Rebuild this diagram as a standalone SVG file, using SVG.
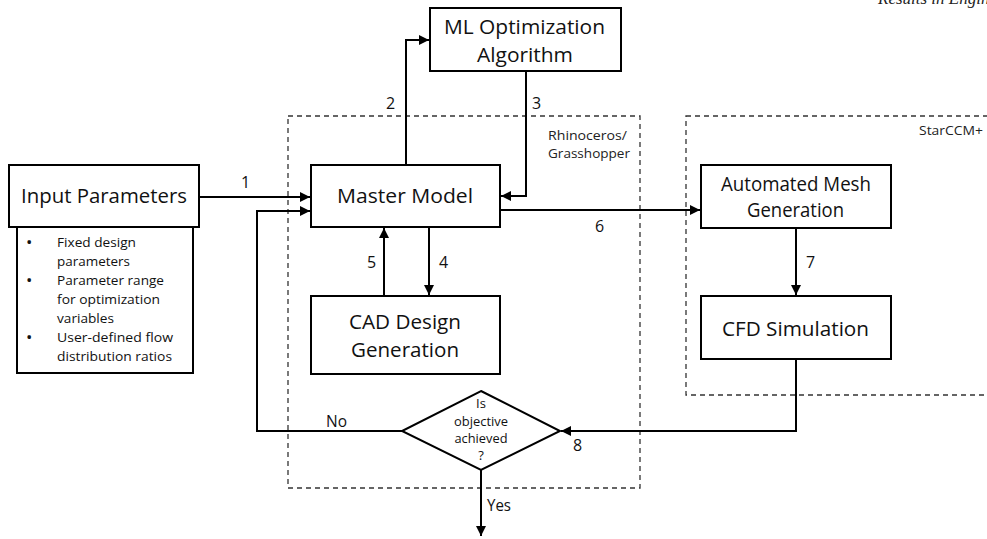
<svg xmlns="http://www.w3.org/2000/svg" width="987" height="539" viewBox="0 0 987 539">
  <style>
    .box { fill: #ffffff; stroke: #000000; stroke-width: 2; }
    .zone { fill: none; stroke: #333333; stroke-width: 1.3; stroke-dasharray: 5 4; }
    .wire { fill: none; stroke: #000000; stroke-width: 2; }
    .lbl { font-family: "Open Sans", "Noto Sans", sans-serif; fill: #111111; }
    .big { font-size: 20px; }
    .mid { font-size: 16px; }
    .small { font-size: 13px; }
    .bullet { font-size: 17px; }
    .zlbl { font-size: 13px; fill: #222222; }
  </style>
  <defs>
    <marker id="head" viewBox="0 0 10 10" refX="10" refY="5" markerWidth="5" markerHeight="5" orient="auto" markerUnits="strokeWidth">
      <path d="M0,0 L10,5 L0,10 z" fill="#000000"/>
    </marker>
  </defs>
  <rect width="987" height="539" fill="#ffffff"/>

  <!-- journal running head, clipped at the top edge -->
  <text x="878" y="4" font-family="Liberation Serif, serif" font-style="italic" font-size="17" fill="#222">Results in Engineering</text>

  <!-- tool zones -->
  <g id="zone-rhino">
    <rect class="zone" x="288" y="116" width="352" height="372"/>
    <text class="lbl zlbl" x="548" y="140" textLength="79" lengthAdjust="spacingAndGlyphs">Rhinoceros/</text>
    <text class="lbl zlbl" x="548" y="158" textLength="82" lengthAdjust="spacingAndGlyphs">Grasshopper</text>
  </g>
  <g id="zone-starccm">
    <rect class="zone" x="686" y="116" width="320" height="279"/>
    <text class="lbl zlbl" x="919" y="135" textLength="64" lengthAdjust="spacingAndGlyphs">StarCCM+</text>
  </g>

  <!-- connectors -->
  <g id="connectors">
    <path class="wire" d="M199,197 H310" marker-end="url(#head)"/>
    <path class="wire" d="M406,165 V40 H429" marker-end="url(#head)"/>
    <path class="wire" d="M526,71 V196 H501" marker-end="url(#head)"/>
    <path class="wire" d="M429,227 V295" marker-end="url(#head)"/>
    <path class="wire" d="M384,296 V228" marker-end="url(#head)"/>
    <path class="wire" d="M500,210 H700" marker-end="url(#head)"/>
    <path class="wire" d="M796,228 V295" marker-end="url(#head)"/>
    <path class="wire" d="M796,359 V431 H561" marker-end="url(#head)"/>
    <path class="wire" d="M402,431 H257 V211 H310" marker-end="url(#head)"/>
    <path class="wire" d="M481,470 V536" marker-end="url(#head)"/>

    <text class="lbl mid" x="241" y="188">1</text>
    <text class="lbl mid" x="386" y="109">2</text>
    <text class="lbl mid" x="532" y="109">3</text>
    <text class="lbl mid" x="439" y="268">4</text>
    <text class="lbl mid" x="367" y="268">5</text>
    <text class="lbl mid" x="595" y="232">6</text>
    <text class="lbl mid" x="806" y="268">7</text>
    <text class="lbl mid" x="573" y="451">8</text>
    <text class="lbl mid" x="326" y="427" textLength="21" lengthAdjust="spacingAndGlyphs">No</text>
    <text class="lbl mid" x="487" y="511" textLength="24" lengthAdjust="spacingAndGlyphs">Yes</text>
  </g>

  <!-- nodes -->
  <g id="input-parameters">
    <rect class="box" x="17" y="227" width="176" height="146"/>
    <rect class="box" x="9" y="165" width="190" height="62"/>
    <text class="lbl big" x="21" y="203" textLength="166" lengthAdjust="spacingAndGlyphs">Input Parameters</text>
    <g class="lbl bullet">
      <text x="26" y="248">•</text>
      <text x="26" y="286">•</text>
      <text x="26" y="343">•</text>
    </g>
    <g class="lbl small">
      <text x="57" y="247" textLength="79" lengthAdjust="spacingAndGlyphs">Fixed design</text>
      <text x="57" y="266" textLength="73" lengthAdjust="spacingAndGlyphs">parameters</text>
      <text x="57" y="285" textLength="107" lengthAdjust="spacingAndGlyphs">Parameter range</text>
      <text x="57" y="304" textLength="103" lengthAdjust="spacingAndGlyphs">for optimization</text>
      <text x="57" y="323" textLength="57" lengthAdjust="spacingAndGlyphs">variables</text>
      <text x="57" y="342" textLength="116" lengthAdjust="spacingAndGlyphs">User-defined flow</text>
      <text x="57" y="361" textLength="115" lengthAdjust="spacingAndGlyphs">distribution ratios</text>
    </g>
  </g>

  <g id="ml-optimization">
    <rect class="box" x="430" y="8" width="191" height="63"/>
    <text class="lbl big" x="444" y="34" textLength="161" lengthAdjust="spacingAndGlyphs">ML Optimization</text>
    <text class="lbl big" x="477" y="62" textLength="96" lengthAdjust="spacingAndGlyphs">Algorithm</text>
  </g>

  <g id="master-model">
    <rect class="box" x="311" y="165" width="189" height="62"/>
    <text class="lbl big" x="337" y="203" textLength="136" lengthAdjust="spacingAndGlyphs">Master Model</text>
  </g>

  <g id="cad-design">
    <rect class="box" x="311" y="296" width="189" height="78"/>
    <text class="lbl big" x="349" y="329" textLength="112" lengthAdjust="spacingAndGlyphs">CAD Design</text>
    <text class="lbl big" x="351" y="357" textLength="108" lengthAdjust="spacingAndGlyphs">Generation</text>
  </g>

  <g id="mesh-generation">
    <rect class="box" x="701" y="165" width="190" height="63"/>
    <text class="lbl big" x="721" y="191" textLength="150" lengthAdjust="spacingAndGlyphs">Automated Mesh</text>
    <text class="lbl big" x="747" y="217" textLength="97" lengthAdjust="spacingAndGlyphs">Generation</text>
  </g>

  <g id="cfd-simulation">
    <rect class="box" x="701" y="296" width="190" height="63"/>
    <text class="lbl big" x="722" y="336" textLength="147" lengthAdjust="spacingAndGlyphs">CFD Simulation</text>
  </g>

  <g id="objective-check">
    <polygon class="box" points="481,391 560,431 481,470 402,431"/>
    <g class="lbl small" text-anchor="middle">
      <text x="481" y="408">Is</text>
      <text x="481" y="426" textLength="54" lengthAdjust="spacingAndGlyphs">objective</text>
      <text x="481" y="443" textLength="53" lengthAdjust="spacingAndGlyphs">achieved</text>
      <text x="481" y="460">?</text>
    </g>
  </g>
</svg>
